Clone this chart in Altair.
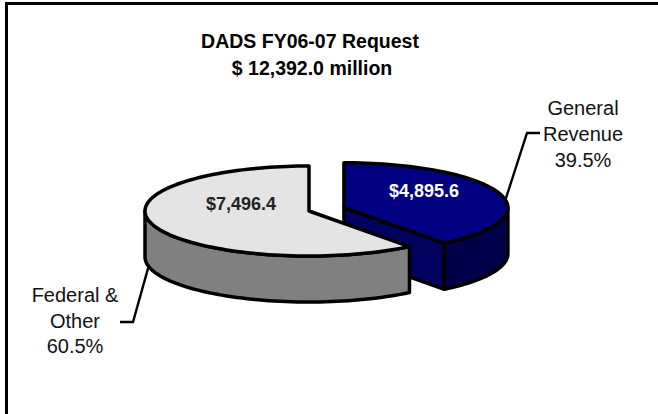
import altair as alt
import numpy as np
import pandas as pd

# ---------------- data ----------------
categories = ["General Revenue", "Federal & Other"]
label_lines = [["General", "Revenue"], ["Federal &", "Other"]]
values = [4895.6, 7496.4]          # $ millions
title_text = "DADS FY06-07 Request"

total = sum(values)
shares = [v / total for v in values]

# ---------------- layout / style ----------------
W, H = 658, 414
CX, CY = 309, 211          # pie centre (pixels)
RX, RY = 164, 45           # ellipse radii of the tilted pie
DEPTH = 46                 # thickness of the pie
EXPLODE = [0.225, 0.0]
START = 90.0               # 12 o'clock, slices go clockwise
FONT = "Liberation Sans"

top_col = ["#000080", "#e4e4e4"]
side_col = ["#00004a", "#808080"]
cut_col = ["#00005e", "#a0a0a0"]


def pt(cx, cy, t, dz=0.0):
    r = np.radians(t)
    return cx + RX * np.cos(r), cy - RY * np.sin(r) + dz


def arc(cx, cy, t0, t1, dz=0.0):
    n = max(2, int(abs(t1 - t0) / 2) + 2)
    return [pt(cx, cy, t, dz) for t in np.linspace(t0, t1, n)]


polys = []   # (fill, points) in drawing order
centres = []
t = START
for k, s in enumerate(shares):
    t0, t1 = t, t - s * 360.0
    t = t1
    mid = np.radians((t0 + t1) / 2)
    cx = CX + EXPLODE[k] * RX * np.cos(mid)
    cy = CY - EXPLODE[k] * RY * np.sin(mid)
    centres.append((cx, cy, t0, t1))
    apex = (cx, cy)
    # cut faces
    for tc, nrm in ((t0, t0 + 90), (t1, t1 - 90)):
        if np.sin(np.radians(nrm)) < -1e-3:
            p = pt(cx, cy, tc)
            q = pt(cx, cy, tc, DEPTH)
            polys.append((cut_col[k], [apex, p, q, (cx, cy + DEPTH), apex]))
    # outer side, front part only
    for kk in (-1, 0, 1):
        lo = max(t1, -180 + 360 * kk)
        hi = min(t0, 360 * kk)
        if hi > lo:
            pts = arc(cx, cy, hi, lo) + arc(cx, cy, lo, hi, DEPTH)
            pts.append(pts[0])
            polys.append((side_col[k], pts))
    # top face
    pts = [apex] + arc(cx, cy, t0, t1) + [apex]
    polys.append((top_col[k], pts))

xs = alt.Scale(domain=[0, W], nice=False, zero=False)
ys = alt.Scale(domain=[0, H], nice=False, zero=False, reverse=True)


def enc(**kw):
    return dict(x=alt.X("x:Q", scale=xs, axis=None),
                y=alt.Y("y:Q", scale=ys, axis=None), **kw)


layers = []

# frame (top and left edges; right and bottom run off the page)
one = pd.DataFrame({"a": [0]})
layers.append(alt.Chart(one).mark_rule(color="black", strokeWidth=3).encode(
    x=alt.value(5), x2=alt.value(W), y=alt.value(3.5)))
layers.append(alt.Chart(one).mark_rule(color="black", strokeWidth=3).encode(
    x=alt.value(6.5), y=alt.value(2), y2=alt.value(H)))

for fill, pts in polys:
    df = pd.DataFrame({"i": range(len(pts)),
                       "x": [p[0] for p in pts],
                       "y": [p[1] for p in pts]})
    layers.append(
        alt.Chart(df).mark_line(fill=fill, stroke="black", strokeWidth=3.5,
                                strokeJoin="round", strokeCap="round")
        .encode(**enc(order="i:Q"))
    )

# leader lines
gcx, gcy, _, _ = centres[0]
fcx, fcy, _, _ = centres[1]
gr_lab = (583, 115)      # centre x, first baseline
fo_lab = (75, 302)
gap = 26
s1 = pt(gcx, gcy, 10)
s2 = pt(fcx, fcy, -168, DEPTH)
lead = pd.DataFrame({
    "g": [0, 0, 0, 1, 1, 1],
    "i": [0, 1, 2, 0, 1, 2],
    "x": [s1[0], 527, 540, s2[0], 133, 120],
    "y": [s1[1], gr_lab[1] + gap - 8, gr_lab[1] + gap - 8,
          s2[1], fo_lab[1] + gap - 6, fo_lab[1] + gap - 6],
})
layers.append(
    alt.Chart(lead).mark_line(color="black", strokeWidth=2.4, strokeJoin="miter")
    .encode(**enc(order="i:Q", detail="g:N"))
)

# title
title_df = pd.DataFrame({"x": [310, 312], "y": [48, 75],
                         "text": [title_text, f"$ {total:,.1f} million"]})
layers.append(alt.Chart(title_df).mark_text(
    font=FONT, fontSize=19.5, fontWeight="bold", color="black",
    align="center", baseline="alphabetic").encode(**enc(text="text:N")))

# value labels
val_df = pd.DataFrame({"x": [424, 241], "y": [197, 210],
                       "text": [f"${v:,.1f}" for v in values],
                       "c": ["white", "#222222"]})
layers.append(alt.Chart(val_df).mark_text(
    font=FONT, fontSize=18, fontWeight="bold",
    align="center", baseline="alphabetic").encode(
        **enc(text="text:N", color=alt.Color("c:N", scale=None))))

# category labels
rows = []
for (lx, ly), lines, s in zip([gr_lab, fo_lab], label_lines, shares):
    for j, line in enumerate(lines + [f"{s * 100:.1f}%"]):
        rows.append({"x": lx, "y": ly + j * (gap if lx > 300 else 25.5), "text": line})
cat_df = pd.DataFrame(rows)
layers.append(alt.Chart(cat_df).mark_text(
    font=FONT, fontSize=20, color="#111111",
    align="center", baseline="alphabetic").encode(**enc(text="text:N")))

chart = alt.layer(*layers).properties(
    width=W, height=H, padding=0, autosize=alt.AutoSizeParams(type="none"),
    background="white"
).configure_view(strokeWidth=0)

chart.save("out.html", embed_options={"renderer": "svg", "actions": False})
